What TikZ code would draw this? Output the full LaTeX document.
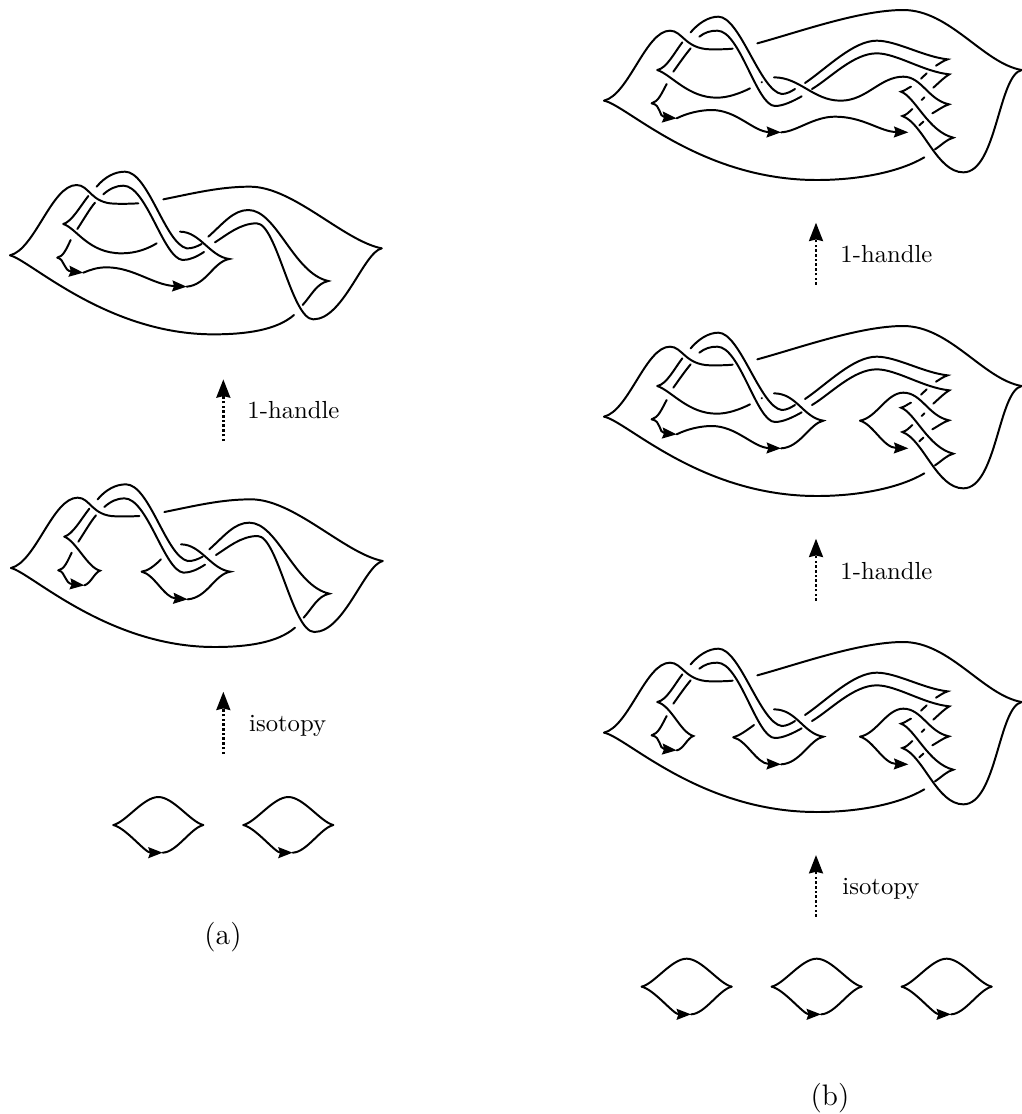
\documentclass[tikz,border=0pt]{standalone}
\usepackage{xcolor}
\usepackage{tikz}
\usetikzlibrary{positioning,arrows.meta}
\tikzset{
  strand/.style={line width=0.8pt, line cap=round, black},
  headed/.style={strand, -{Stealth[length=5.8pt, width=4.4pt, inset=0.7pt]}},
  movearrow/.style={line width=1.1pt, dash pattern=on 1pt off 0.9pt,
    -{Stealth[length=7.4pt, width=5.6pt, inset=0.6pt]}},
  pics/unknot/.style={code={
    \draw[strand] (0,0) .. controls (38,-9) and (90,-84) .. (135,-84)
      .. controls (180,-84) and (232,-9) .. (270,0);
    \draw[headed] (0,0) .. controls (38,9) and (95,83) .. (148,83);
    \draw[strand] (148,83) .. controls (190,82) and (232,9) .. (270,0);
  }},
  pics/leftbase/.style={code={
    \draw[strand] (30,286) .. controls (105,268) and (155,75) .. (230,75)
      .. controls (268,75) and (272,130) .. (345,131) .. controls (370,132) and (395,131) .. (415,130);
    \draw[strand] (30,286) .. controls (90,300) and (320,523) .. (640,523)
      .. controls (740,523) and (830,510) .. (882,465);
    \draw[strand] (490,118) .. controls (580,100) and (660,80) .. (750,80)
      .. controls (880,80) and (1030,242) .. (1145,265);
    \draw[strand] (1145,265) .. controls (1090,278) and (1030,478) .. (940,478)
      .. controls (875,478) and (830,190) .. (770,190) .. controls (720,190) and (680,225) .. (645,247);
    \draw[strand] (625,230) .. controls (670,190) and (700,150) .. (745,150)
      .. controls (830,150) and (880,340) .. (985,363) .. controls (950,370) and (935,405) .. (908,435);
    \draw[strand] (290,80) .. controls (315,50) and (345,35) .. (375,35)
      .. controls (445,35) and (495,250) .. (560,265) .. controls (575,266) and (590,260) .. (605,252);
    \draw[strand] (310,103) .. controls (330,85) and (350,77) .. (370,77)
      .. controls (440,77) and (490,295) .. (548,300) .. controls (570,300) and (590,290) .. (612,276);
    \draw[strand] (265,108) .. controls (240,140) and (215,185) .. (190,192);
    \draw[strand] (285,128) .. controls (270,145) and (250,180) .. (232,207);
    \draw[strand] (212,240) .. controls (200,265) and (190,290) .. (172,293);
    \draw[headed] (172,293) .. controls (195,298) and (190,332) .. (250,338);
    \draw[strand] (540,215) .. controls (600,215) and (630,290) .. (688,297)
      .. controls (640,305) and (620,375) .. (560,380);
  }},
  pics/leftlong/.style={code={
    \draw[strand] (190,192) .. controls (230,205) and (265,280) .. (365,280)
      .. controls (410,280) and (445,265) .. (470,250);
    \draw[headed] (250,338) .. controls (270,330) and (290,322) .. (320,322)
      .. controls (400,322) and (460,375) .. (560,380);
  }},
  pics/leftshort/.style={code={
    \draw[strand] (190,192) .. controls (225,205) and (260,285) .. (297,294)
      .. controls (280,300) and (270,332) .. (250,338);
    \draw[strand] (480,260) .. controls (460,280) and (440,295) .. (422,297);
    \draw[headed] (422,297) .. controls (460,305) and (490,375) .. (560,380);
  }},
  pics/rightbase/.style={code={
    \draw[strand] (12,302) .. controls (87,284) and (137,92) .. (210,92)
      .. controls (247,92) and (255,146) .. (330,148) .. controls (355,148) and (380,148) .. (398,146);
    \draw[strand] (12,302) .. controls (80,315) and (300,540) .. (650,540)
      .. controls (780,540) and (900,515) .. (973,472);
    \draw[strand] (472,130) .. controls (600,95) and (780,30) .. (910,30)
      .. controls (1050,30) and (1150,190) .. (1265,210);
    \draw[strand] (1265,210) .. controls (1195,225) and (1190,517) .. (1090,517)
      .. controls (1010,517) and (970,370) .. (907,348) .. controls (920,345) and (928,335) .. (937,327);
    \draw[strand] (272,97) .. controls (295,70) and (325,50) .. (355,50)
      .. controls (420,50) and (480,272) .. (545,282) .. controls (560,282) and (572,275) .. (585,267);
    \draw[strand] (298,110) .. controls (315,97) and (330,92) .. (352,92)
      .. controls (420,92) and (470,318) .. (525,318) .. controls (550,318) and (580,303) .. (605,289);
    \draw[strand] (615,249) .. controls (680,205) and (760,122) .. (830,122)
      .. controls (890,122) and (970,170) .. (1043,178) .. controls (1030,182) and (1020,190) .. (1008,197);
    \draw[strand] (636,267) .. controls (690,235) and (760,160) .. (830,160)
      .. controls (890,160) and (970,215) .. (1048,223) .. controls (1035,230) and (1020,245) .. (1000,263);
    \draw[strand] (963,236) -- (980,220);
    \draw[strand] (933,260) .. controls (922,265) and (915,272) .. (903,275)
      .. controls (945,290) and (985,395) .. (1060,413) .. controls (1040,418) and (1025,435) .. (1005,448);
    \draw[strand] (910,230) .. controls (965,230) and (985,300) .. (1047,313)
      .. controls (1030,318) and (1015,330) .. (997,340);
    \draw[strand] (965,300) -- (973,292);
    \draw[strand] (958,376) -- (970,365);
    \draw[strand] (247,127) .. controls (225,155) and (200,205) .. (172,210);
    \draw[strand] (272,145) .. controls (255,165) and (238,190) .. (220,215);
    \draw[strand] (200,252) .. controls (185,280) and (175,305) .. (155,310);
    \draw[headed] (155,310) .. controls (185,315) and (175,350) .. (230,355);
  }},
  pics/rightfirst/.style={code={
    \draw[strand] (172,210) .. controls (215,225) and (265,293) .. (350,293)
      .. controls (385,293) and (420,280) .. (450,265);
    \draw[strand] (485,247) -- (486,246);
  }},
  pics/rightdetour/.style={code={
    \draw[headed] (230,355) .. controls (260,340) and (300,330) .. (335,330)
      .. controls (410,330) and (460,395) .. (543,397);
    \draw[headed] (543,397) .. controls (590,395) and (640,350) .. (705,350)
      .. controls (790,350) and (840,395) .. (925,397);
    \draw[strand] (522,232) .. controls (600,232) and (640,302) .. (722,302)
      .. controls (800,302) and (840,230) .. (910,230);
  }},
  pics/rightbarb/.style={code={
    \draw[strand] (522,232) .. controls (590,232) and (610,305) .. (670,314)
      .. controls (630,322) and (600,395) .. (543,397);
    \draw[strand] (910,230) .. controls (860,230) and (830,305) .. (780,314);
    \draw[headed] (780,314) .. controls (820,325) and (850,395) .. (925,397);
  }},
  pics/rightsmall/.style={code={
    \draw[strand] (172,210) .. controls (215,222) and (240,300) .. (280,312)
      .. controls (262,318) and (250,352) .. (230,355);
    \draw[strand] (462,279) .. controls (440,295) and (420,310) .. (400,316);
    \draw[headed] (400,316) .. controls (440,325) and (470,395) .. (543,397);
  }},
  pics/rightwide/.style={code={
    \draw[headed] (230,355) .. controls (260,340) and (300,330) .. (335,330)
      .. controls (410,330) and (460,395) .. (543,397);
  }}
}
\begin{document}
\begin{tikzpicture}[x=.135pt, y=-.135pt]
  \useasboundingbox (0,0) rectangle (3066,3342);

  \pic at (0,480) {leftbase};
  \pic at (0,480) {leftlong};
  \pic at (3,1418) {leftbase};
  \pic at (3,1418) {leftshort};
  \pic at (340,2475) {unknot};
  \pic at (730,2475) {unknot};

  \pic at (1800,0) {rightbase};
  \pic at (1800,0) {rightfirst};
  \pic at (1800,0) {rightdetour};
  \pic at (1800,948) {rightbase};
  \pic at (1800,948) {rightfirst};
  \pic at (1800,948) {rightwide};
  \pic at (1800,948) {rightbarb};
  \pic at (1800,1896) {rightbase};
  \pic at (1800,1896) {rightsmall};
  \pic at (1800,1896) {rightbarb};
  \pic at (1925,2960) {unknot};
  \pic at (2315,2960) {unknot};
  \pic at (2705,2960) {unknot};

  \coordinate (isoLowA) at (670,2262);
  \coordinate (isoTopA) at (670,2075);
  \coordinate (hanLowA) at (670,1323);
  \coordinate (hanTopA) at (670,1138);
  \coordinate (isoLowB) at (2448,2750);
  \coordinate (isoTopB) at (2448,2565);
  \coordinate (hanLowB) at (2448,1802);
  \coordinate (hanTopB) at (2448,1616);
  \coordinate (upLowB) at (2448,854);
  \coordinate (upTopB) at (2448,668);

  \draw[movearrow] (isoLowA) -- (isoTopA);
  \draw[movearrow] (hanLowA) -- (hanTopA);
  \draw[movearrow] (isoLowB) -- (isoTopB);
  \draw[movearrow] (hanLowB) -- (hanTopB);
  \draw[movearrow] (upLowB) -- (upTopB);

  \node[anchor=west, inner sep=0pt] (isoA) at (746,2178) {isotopy};
  \node[anchor=west, inner sep=0pt] (hanA) at (741,1230) {1-handle};
  \node[anchor=west, inner sep=0pt] (isoB) at (2526,2666) {isotopy};
  \node[anchor=west, inner sep=0pt] (hanB) at (2520,1713) {1-handle};
  \node[anchor=west, inner sep=0pt] (upB) at (2520,762) {1-handle};
  \node[font=\large] (capA) at (669,2812) {(a)};
  \node[font=\large] (capB) at (2490,3295) {(b)};
\end{tikzpicture}
\end{document}
